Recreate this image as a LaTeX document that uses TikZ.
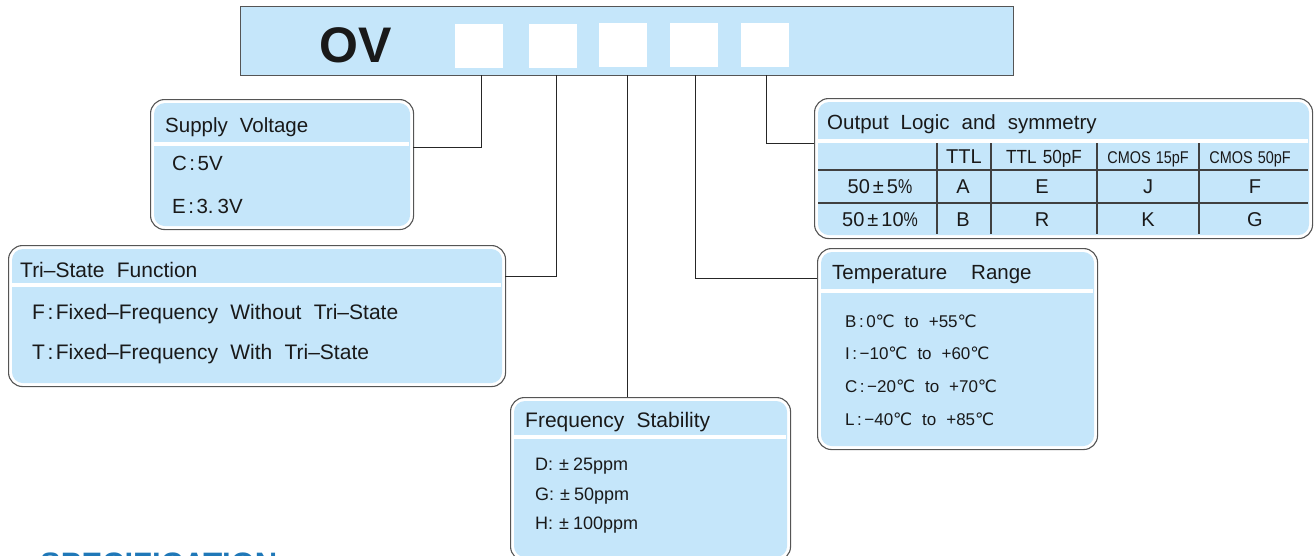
\documentclass[tikz,border=0pt]{standalone}
\usepackage{fontspec}
\setmainfont{Liberation Sans}[WordSpace=2.1]
\newfontfamily\dv{DejaVu Sans}
\usetikzlibrary{calc}
\definecolor{lb}{HTML}{C5E6FA}
\definecolor{bd}{HTML}{555555}
\definecolor{spec}{HTML}{1F78B8}
\newcommand{\fsz}[1]{\fontsize{#1}{#1}\selectfont}
\newcommand{\degc}{{\dv ℃}}
\newcommand{\cl}{\hspace{2.5pt}:\hspace{2.5pt}}
\begin{document}
\begin{tikzpicture}[x=1pt,y=-1pt,
  obox/.style={draw=bd, line width=1.1pt, rounded corners=14pt, fill=white, anchor=north west, inner sep=0pt},
  ibox/.style={fill=lb, rounded corners=11pt},
  sep/.style={draw=white, line width=3.5pt},
  conn/.style={draw=black!85, line width=1pt},
  gridl/.style={draw=black!75, line width=1.1pt},
  txt/.style={anchor=base west, inner sep=0pt, text=black!90},
  ctxt/.style={anchor=base, inner sep=0pt, text=black!90},
  wsq/.style={fill=white, minimum width=48pt, minimum height=44pt, anchor=north west, inner sep=0pt},
]
\useasboundingbox (0,0) rectangle (1314,555);
\clip (0,0) rectangle (1314,555);

% top bar
\node[draw=bd, line width=1.4pt, fill=lb, minimum width=773pt, minimum height=69pt, anchor=north west, inner sep=0pt] (bar) at (240,6) {};
\node[anchor=base, inner sep=0pt, font=\fsz{50}\bfseries, text=black!90] (ov) at (356,62) {OV};
\node[wsq] (s1) at (455,24) {};
\node[wsq] (s2) at (529,24) {};
\node[wsq] (s3) at (599,23) {};
\node[wsq] (s4) at (670,23) {};
\node[wsq] (s5) at (741,23) {};
\coordinate (p1) at (481,75);
\coordinate (p2) at (556,75);
\coordinate (p3) at (627,75);
\coordinate (p4) at (695,75);
\coordinate (p5) at (766,75);

% Supply voltage
\node[obox, minimum width=263pt, minimum height=130pt] (sv) at (150,99) {};
\fill[ibox] ($(sv.north west)+(4,4)$) rectangle ($(sv.south east)+(-4,-4)$);
\draw[sep] (154,144) -- (409,144);
\node[txt, font=\fsz{20.5}] (svh) at (165,132) {Supply Voltage};
\node[txt, font=\fsz{20.5}] (sv1) at (172,170) {C\cl 5V};
\node[txt, font=\fsz{20.5}] (sv2) at (172,213) {E\cl 3.\hspace{4pt}3V};
\coordinate (svc) at (413,147);
\draw[conn] (p1) |- (svc);

% Tri-state
\node[obox, minimum width=497pt, minimum height=141pt] (ts) at (8,245) {};
\fill[ibox] ($(ts.north west)+(4,4)$) rectangle ($(ts.south east)+(-4,-4)$);
\draw[sep] (12,285) -- (501,285);
\node[txt, font=\fsz{21}] (tsh) at (20,277) {Tri–State Function};
\node[txt, font=\fsz{21}] (ts1) at (32,319) {F\cl Fixed–Frequency Without Tri–State};
\node[txt, font=\fsz{21}] (ts2) at (32,359) {T\cl Fixed–Frequency With Tri–State};
\coordinate (tsc) at (505,276);
\draw[conn] (p2) |- (tsc);

% Frequency stability
\node[obox, minimum width=280pt, minimum height=163pt] (fs) at (510,397) {};
\fill[ibox] ($(fs.north west)+(4,4)$) rectangle ($(fs.south east)+(-4,-4)$);
\draw[sep] (514,437) -- (786,437);
\node[txt, font=\fsz{21}] (fsh) at (525,427) {Frequency Stability};
\node[txt, font=\fsz{18}] (fs1) at (535,470) {D:\hspace{6pt}±\hspace{4pt}25ppm};
\node[txt, font=\fsz{18}] (fs2) at (535,500) {G:\hspace{6pt}±\hspace{4pt}50ppm};
\node[txt, font=\fsz{18}] (fs3) at (535,529) {H:\hspace{6pt}±\hspace{4pt}100ppm};
\coordinate (fsc) at (627,397);
\draw[conn] (p3) -- (fsc);

% Output logic
\node[obox, minimum width=498pt, minimum height=140pt] (ol) at (814,98) {};
\fill[ibox] ($(ol.north west)+(4,4)$) rectangle ($(ol.south east)+(-4,-4)$);
\draw[sep, line width=4pt] (818,141) -- (1308,141);
\node[txt, font=\fsz{20.5}] (olh) at (827,129) {Output Logic and symmetry};
\foreach \x in {937,991,1097,1199} \draw[gridl] (\x,143) -- (\x,234);
\foreach \y in {170,203} \draw[gridl] (818,\y) -- (1308,\y);
\node[ctxt, font=\fsz{20}] (c1) at (964,163) {TTL};
\node[ctxt, font=\fsz{19}] (c2) at (1044,163) {\scalebox{0.9}[1]{TTL\hspace{7pt}50pF}};
\node[ctxt, font=\fsz{17}] (c3) at (1148,163) {\scalebox{0.85}[1]{CMOS\hspace{6pt}15pF}};
\node[ctxt, font=\fsz{17}] (c4) at (1250,163) {\scalebox{0.85}[1]{CMOS\hspace{6pt}50pF}};
\node[ctxt, font=\fsz{20}] (r1) at (880,193) {50\hspace{3pt}±\hspace{3pt}5\scalebox{0.8}[1]{\%}};
\node[ctxt, font=\fsz{20}] (r2) at (880,226) {50\hspace{3pt}±\hspace{3pt}10\scalebox{0.8}[1]{\%}};
\node[ctxt, font=\fsz{20}] (a1) at (963,193) {A};
\node[ctxt, font=\fsz{20}] (a2) at (1042,193) {E};
\node[ctxt, font=\fsz{20}] (a3) at (1148,193) {J};
\node[ctxt, font=\fsz{20}] (a4) at (1255,193) {F};
\node[ctxt, font=\fsz{20}] (b1) at (963,226) {B};
\node[ctxt, font=\fsz{20}] (b2) at (1042,226) {R};
\node[ctxt, font=\fsz{20}] (b3) at (1148,226) {K};
\node[ctxt, font=\fsz{20}] (b4) at (1255,226) {G};
\coordinate (olc) at (814,143);
\draw[conn] (p5) |- (olc);

% Temperature range
\node[obox, minimum width=280pt, minimum height=201pt] (tr) at (817,248) {};
\fill[ibox] ($(tr.north west)+(4,4)$) rectangle ($(tr.south east)+(-4,-4)$);
\draw[sep] (821,291) -- (1093,291);
\node[txt, font=\fsz{20.5}] (trh) at (832,279) {Temperature\hspace{12pt} Range};
\node[txt, font=\fsz{17}] (tr1) at (845,327) {B\cl 0\degc{} to +55\degc};
\node[txt, font=\fsz{17}] (tr2) at (845,359) {I\cl −10\degc{} to +60\degc};
\node[txt, font=\fsz{17}] (tr3) at (845,392) {C\cl −20\degc{} to +70\degc};
\node[txt, font=\fsz{17}] (tr4) at (845,425) {L\cl −40\degc{} to +85\degc};
\coordinate (trc) at (817,278);
\draw[conn] (p4) |- (trc);

% cut-off heading
\node[anchor=base west, inner sep=0pt, font=\fsz{31}\bfseries, text=spec] (spec) at (40,574) {SPECIFICATION};
\end{tikzpicture}
\end{document}
